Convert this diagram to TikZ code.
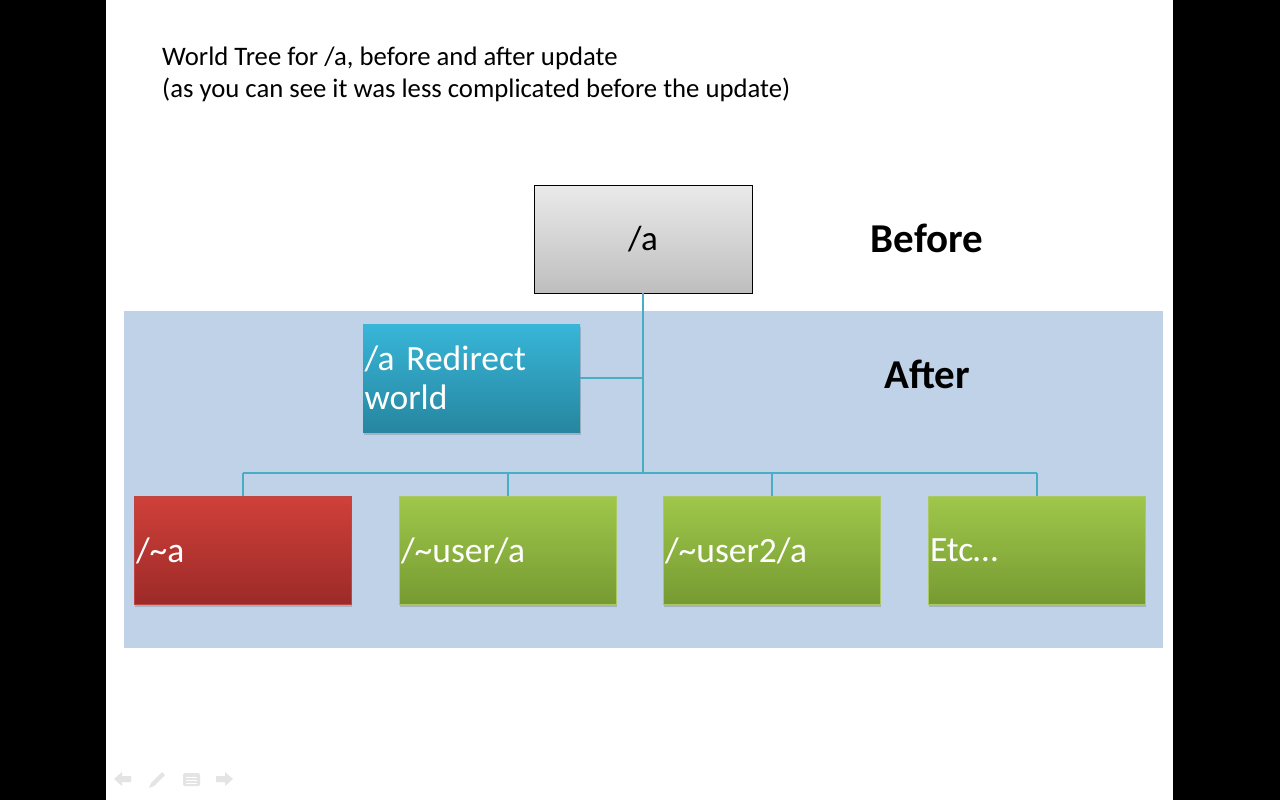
\documentclass[tikz,border=0pt]{standalone}
\usepackage{fontspec}
\setmainfont{Carlito}
\usetikzlibrary{shadows}
\definecolor{afterbg}{HTML}{C0D2E8}
\definecolor{conncol}{HTML}{4BACC6}
\definecolor{navgray}{HTML}{E4E4E4}
\definecolor{redtop}{RGB}{208,64,58}
\definecolor{redbot}{RGB}{156,42,40}
\definecolor{redline}{RGB}{190,70,66}
\definecolor{greentop}{RGB}{159,199,74}
\definecolor{greenbot}{RGB}{118,154,50}
\definecolor{greenline}{RGB}{170,200,100}
\definecolor{bluetop}{RGB}{56,182,216}
\definecolor{bluebot}{RGB}{38,134,160}
\definecolor{graytop}{RGB}{234,234,234}
\definecolor{graybot}{RGB}{190,190,190}
\tikzset{
  conn/.style={draw=conncol, line width=1.1pt},
  treebox/.style={rectangle, minimum height=108pt, text width=214pt, inner xsep=1.5pt, inner ysep=0pt, align=left, text=white,
     font=\fontsize{35.5}{39}\selectfont,
     drop shadow={opacity=0.3, shadow xshift=0.8pt, shadow yshift=-2.5pt, fill=black!60}},
  redbox/.style={treebox, top color=redtop, bottom color=redbot, draw=redline, line width=0.6pt},
  greenbox/.style={treebox, top color=greentop, bottom color=greenbot, draw=greenline, line width=0.6pt},
  bluebox/.style={treebox, top color=bluetop, bottom color=bluebot},
  rootbox/.style={rectangle, draw=black, line width=0.8pt, minimum width=218pt, minimum height=108pt, top color=graytop, bottom color=graybot, font=\fontsize{35}{40}\selectfont},
  sidelabel/.style={font=\fontsize{41}{46}\selectfont\bfseries, anchor=base},
  navicon/.style={fill=navgray, draw=none}
}
\begin{document}
\begin{tikzpicture}[x=1pt,y=-1pt]
\useasboundingbox (0,0) rectangle (1280,800);
\fill[black] (0,0) rectangle (1280,800);
\fill[white] (106,0) rectangle (1173,800);
\fill[afterbg] (124,311) rectangle (1163,648);

% title (base = last line)
\node[anchor=base west, align=left, font=\fontsize{26.7}{32}\selectfont, inner sep=0pt] (title) at (162,97.5)
  {World Tree for /a, before and after update\\(as you can see it was less complicated before the update)};

% side labels
\node[sidelabel] (before) at (927,252) {Before};
\node[sidelabel] (after) at (927,388) {After};

% root
\node[rootbox] (root) at (643,239) {/a};

% redirect
\node[bluebox] (redir) at (471.5,378) {/a Redirect\\world};

% children
\node[redbox] (c1) at (243,550.5) {/\textasciitilde a};
\node[greenbox] (c2) at (508,550.5) {/\textasciitilde user/a};
\node[greenbox] (c3) at (772,550.5) {/\textasciitilde user2/a};
\node[greenbox] (c4) at (1037,550.5) {Etc…};

% connectors
\coordinate (bus) at (643,473);
\draw[conn] (root.south) -- (bus);
\draw[conn] (redir.east) -- (redir.east -| root.south);
\draw[conn] (c1.north |- bus) -- (c4.north |- bus);
\foreach \c in {c1,c2,c3,c4} \draw[conn] (\c.north |- bus) -- (\c.north);

% navigation icons (faint)
\fill[navicon] (114,779) -- (122,772) -- (122,776) -- (131,776) -- (131,782) -- (122,782) -- (122,786) -- cycle;
\fill[navicon] (149,788) -- (151,783) -- (162,772) -- (165,775) -- (154,786) -- cycle;
\fill[navicon, rounded corners=1.5pt] (183,773) rectangle (200,786);
\draw[white, line width=1pt] (186,777) -- (197,777) (186,780) -- (197,780) (186,783) -- (197,783);
\fill[navicon] (233,779) -- (225,772) -- (225,776) -- (216,776) -- (216,782) -- (225,782) -- (225,786) -- cycle;
\end{tikzpicture}
\end{document}
